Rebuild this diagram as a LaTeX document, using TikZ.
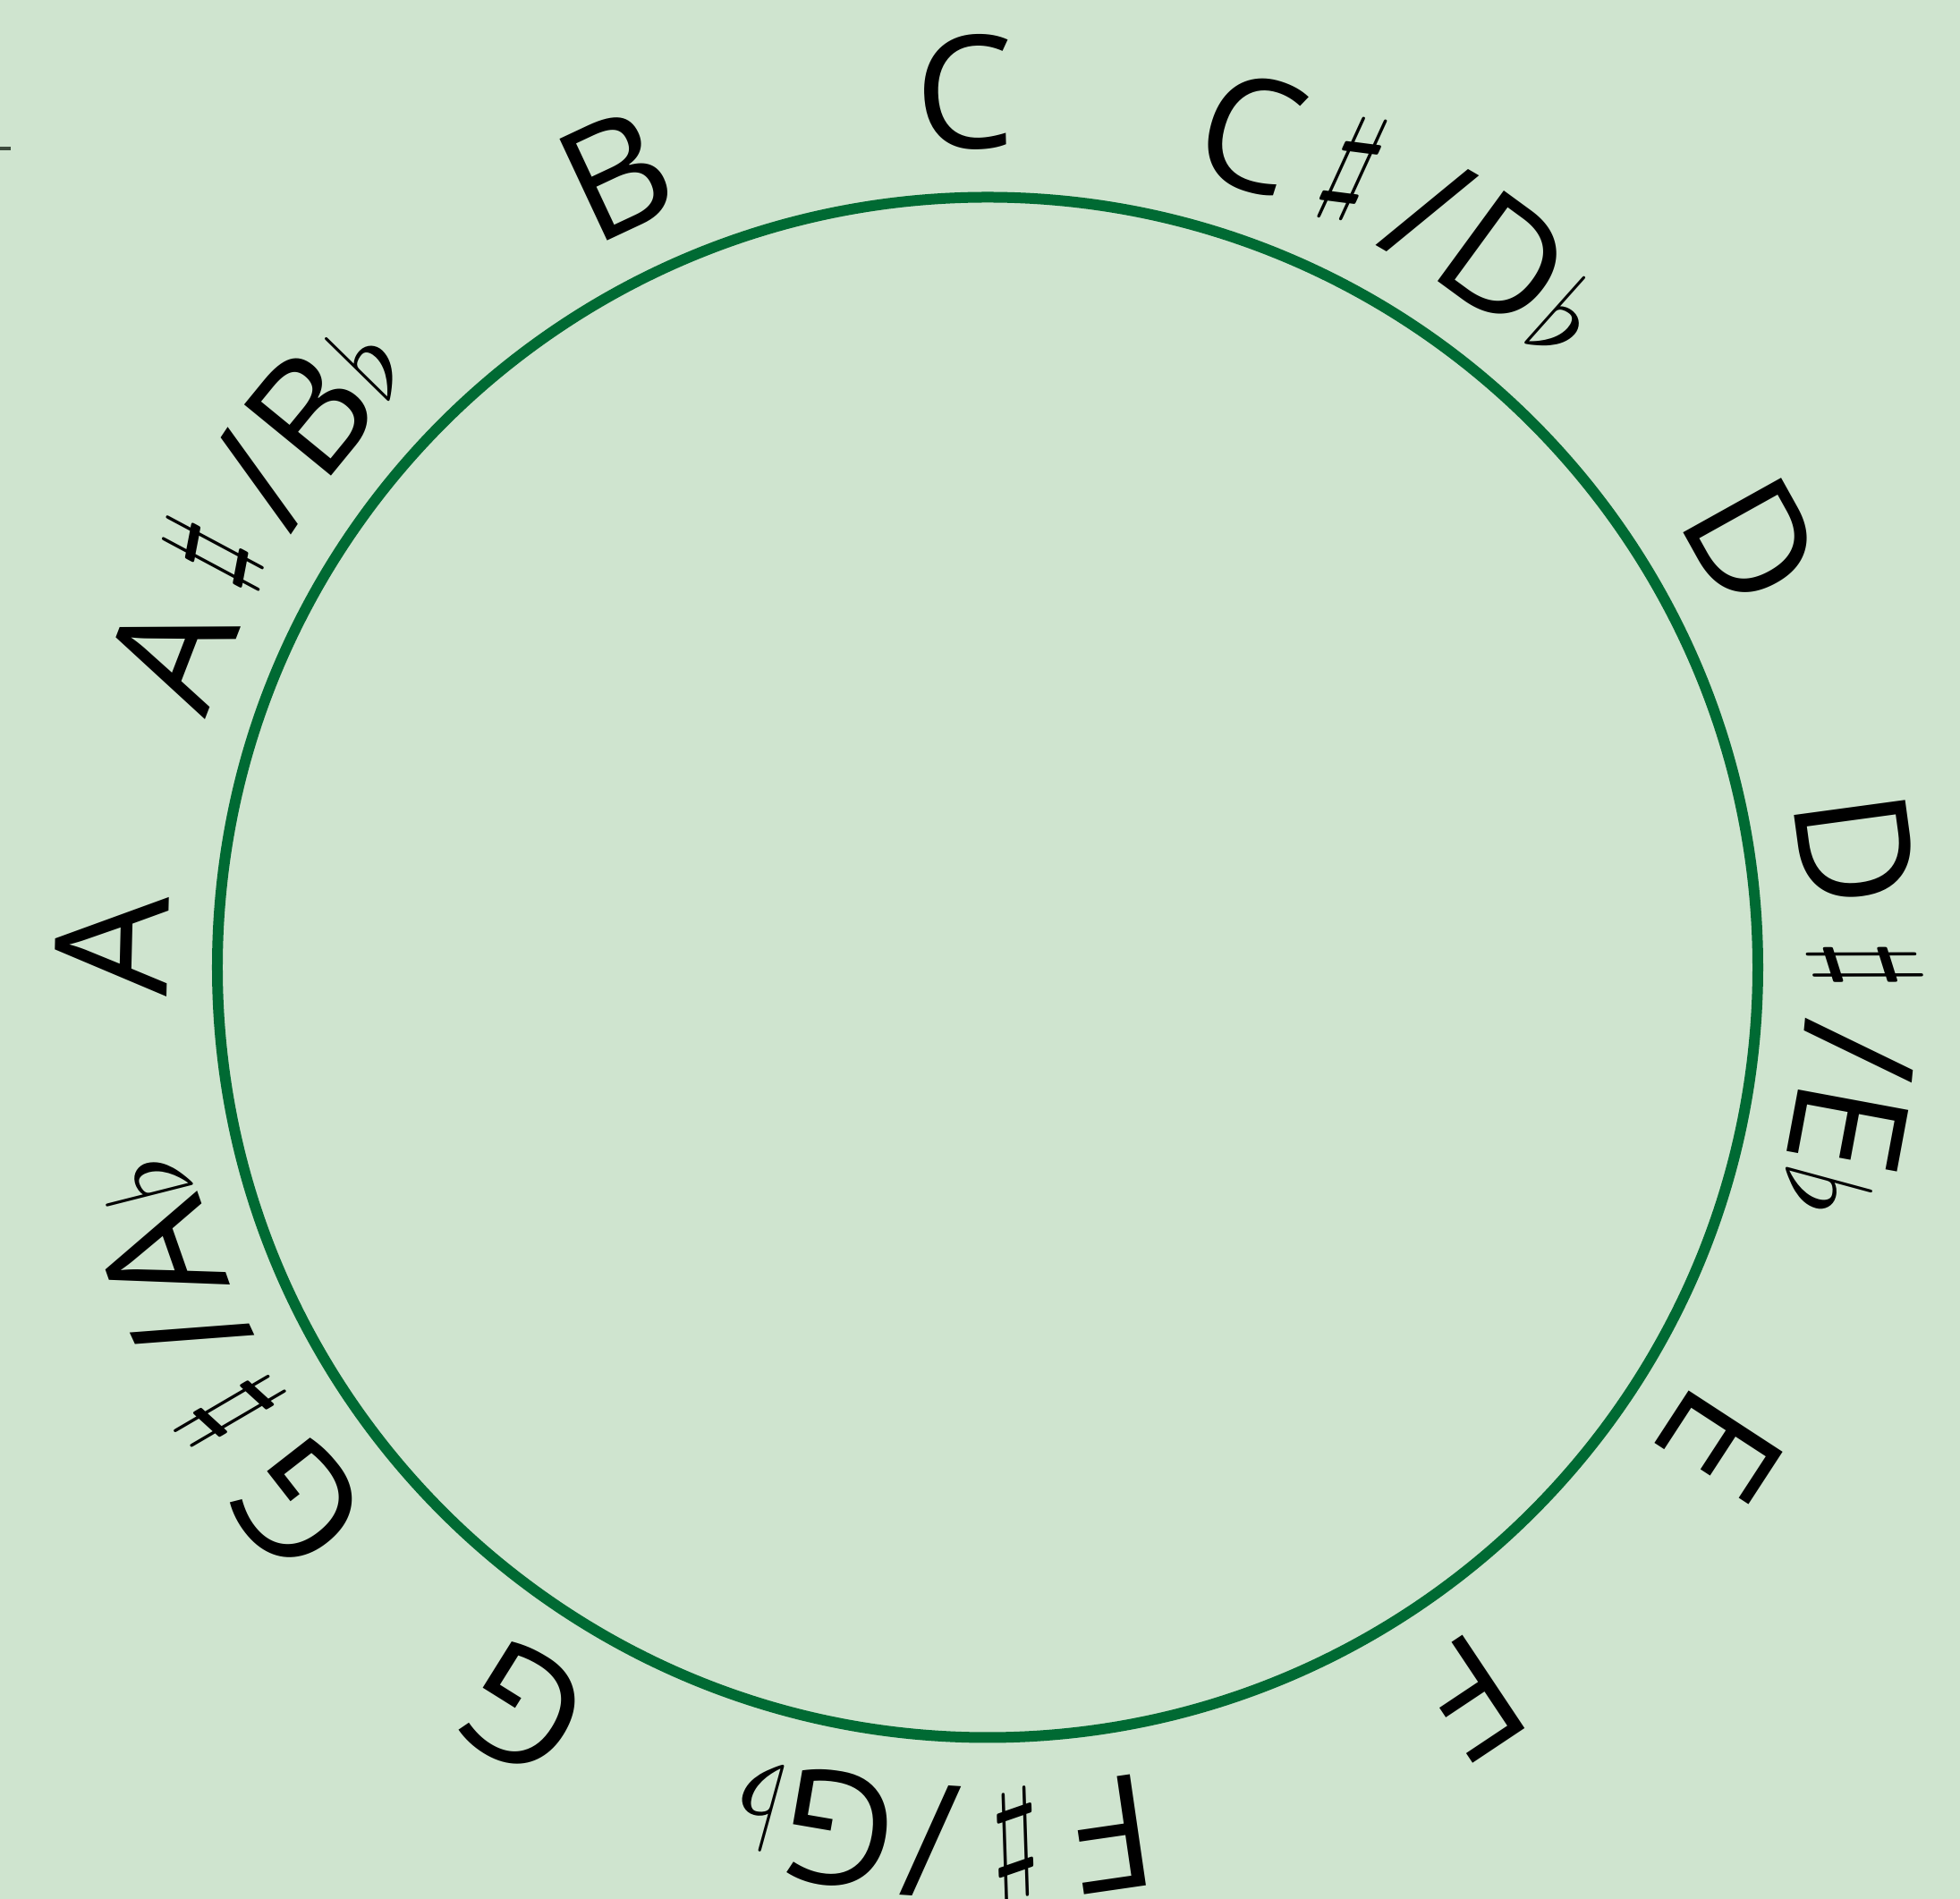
\documentclass[tikz,border=0pt]{standalone}
\usepackage{fontspec}
\setmainfont{Open Sans}
\newfontfamily\symf{Latin Modern Math}
\usetikzlibrary{decorations.text}
\definecolor{bg}{HTML}{CFE4CF}
\definecolor{ring}{HTML}{006A33}
\definecolor{tickc}{HTML}{3C4A3C}
\newcommand\notefont{\fontsize{50}{60}\selectfont}
\newcommand\shp{\makebox[1.15cm]{\raisebox{0.3cm}{\symf\fontsize{40}{48}\selectfont ♯}}}
\newcommand\flt{\raisebox{0.07cm}{\symf\fontsize{37}{44}\selectfont ♭}}
\newcommand\notelabel[2]{\path[decorate,decoration={text along path,text={|\notefont|#2},text align=center}] (#1+40:9.16) arc[start angle=#1+40,end angle=#1-40,radius=9.16];}
\begin{document}
\begin{tikzpicture}
\fill[bg] (-11.04,-10.415) rectangle (10.87,10.815);
\useasboundingbox (-11.04,-10.415) rectangle (10.87,10.815);
\draw[tickc, line width=0.04cm] (-11.04,9.158) -- (-10.92,9.158);
\draw[ring, line width=0.12cm] (0,0) circle[radius=8.61];
\notelabel{91.5}{C}
\notelabel{61.3}{C{\shp}/D{\flt}}
\notelabel{29.1}{D}
\notelabel{-2.5}{D{\shp}/E{\flt}}
\notelabel{-33.1}{E}
\notelabel{-56.3}{F}
\notelabel{-92.9}{F{\shp}/G{\flt}}
\notelabel{-122}{G}
\notelabel{-152.7}{G{\shp}/A{\flt}}
\notelabel{178.6}{A}
\notelabel{148.2}{A{\shp}/B{\flt}}
\notelabel{115.1}{B}
\end{tikzpicture}
\end{document}
